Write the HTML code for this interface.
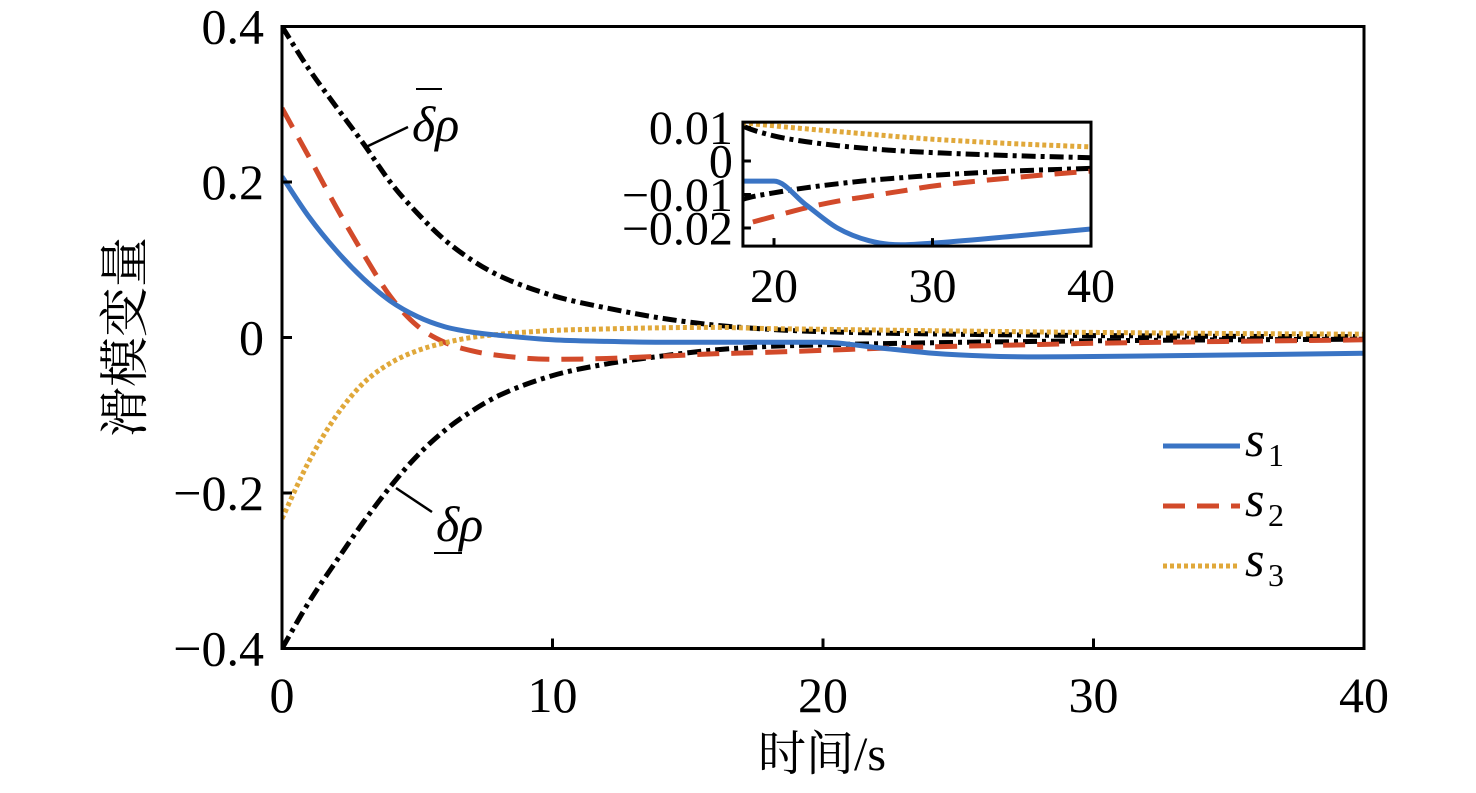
<!DOCTYPE html>
<html><head><meta charset="utf-8"><style>
html,body{margin:0;padding:0;background:#fff;overflow:hidden;width:1476px;height:793px;}
svg{display:block;position:absolute;left:0;top:0;font-family:"Liberation Serif","Noto Serif CJK SC",serif;}
</style></head><body>
<svg id="chart" width="1476" height="793" viewBox="0 0 1476 793" xmlns="http://www.w3.org/2000/svg">
<defs>
<clipPath id="mainClip"><rect x="282" y="26" width="1082" height="623"/></clipPath>
<clipPath id="insetClip"><rect x="743" y="122" width="348" height="124"/></clipPath>
</defs>
<g id="main"></g>
<g id="inset"></g>
<text transform="translate(142,337) rotate(-90)" text-anchor="middle" font-size="50" font-family="'Liberation Serif','Noto Serif CJK SC',serif">滑模变量</text>
<text x="822" y="770" text-anchor="middle" font-size="48" font-family="'Liberation Serif','Noto Serif CJK SC',serif">时间/s</text>
<g>
<line x1="366" y1="147" x2="408" y2="127" stroke="#000" stroke-width="2.5"/>
<text x="412" y="141" font-size="50" font-style="italic">δρ</text>
<line x1="416" y1="89" x2="442" y2="89" stroke="#000" stroke-width="2"/>
</g>
<g>
<line x1="396" y1="488" x2="432" y2="512" stroke="#000" stroke-width="2.5"/>
<text x="436" y="541" font-size="50" font-style="italic">δρ</text>
<line x1="434" y1="553" x2="462" y2="553" stroke="#000" stroke-width="2"/>
</g>
<g id="legend"></g>
</svg>
<script>
const tVals=[0,1,2,3,4,5,6,7,8,10,12,14,16,18,20,22,24,26,28,30,35,40];
const upperVals=[0.4,0.345,0.297,0.25,0.2,0.16,0.126,0.1,0.08,0.054,0.038,0.025,0.016,0.0105,0.0075,0.0058,0.0046,0.0037,0.003,0.0025,0.0016,0.001];
const lowerVals=[-0.4,-0.34,-0.288,-0.238,-0.192,-0.152,-0.12,-0.095,-0.075,-0.049,-0.034,-0.024,-0.016,-0.0115,-0.0095,-0.008,-0.0068,-0.0058,-0.005,-0.0043,-0.003,-0.0022];
const s1Vals=[0.207,0.155,0.112,0.076,0.047,0.027,0.014,0.007,0.003,-0.003,-0.005,-0.006,-0.006,-0.006,-0.006,-0.013,-0.02,-0.0238,-0.025,-0.0245,-0.0225,-0.0203];
const s2Vals=[0.295,0.232,0.168,0.108,0.053,0.015,-0.006,-0.017,-0.023,-0.028,-0.027,-0.024,-0.021,-0.019,-0.0165,-0.014,-0.012,-0.0105,-0.009,-0.0075,-0.005,-0.003];
const s3Vals=[-0.233,-0.159,-0.101,-0.059,-0.033,-0.017,-0.007,0.0,0.004,0.009,0.011,0.0125,0.013,0.0115,0.0105,0.0096,0.0088,0.008,0.0072,0.0065,0.0052,0.0042];
const xTicks=[0,10,20,30,40];
const yTicks=[-0.4,-0.2,0,0.2,0.4];
const yTickLabels=["\u22120.4","\u22120.2","0","0.2","0.4"];
const insetXTicks=[20,30,40];
const insetYTicks=[-0.02,-0.01,0,0.01];
const insetYTickLabels=["\u22120.02","\u22120.01","0","0.01"];
const legendLabels=["1","2","3"];

const NS="http://www.w3.org/2000/svg";
function mk(tag,attrs,parent){const e=document.createElementNS(NS,tag);for(const k in attrs)e.setAttribute(k,attrs[k]);parent.appendChild(e);return e;}
const styles=[
 {vals:upperVals,color:"#000",dash:"14 5 4 5",w:5,name:"upper-bound-line"},
 {vals:lowerVals,color:"#000",dash:"14 5 4 5",w:5,name:"lower-bound-line"},
 {vals:s2Vals,color:"#d24a2a",dash:"22 12",w:5,name:"s2-line"},
 {vals:s3Vals,color:"#e0a83a",dash:"4 3",w:5,name:"s3-line"},
 {vals:s1Vals,color:"#3a74c4",dash:"",w:5,name:"s1-line"}];

function monoPath(pts){
  const n=pts.length,dx=[],m=[],tg=[];
  for(let i=0;i<n-1;i++){dx[i]=pts[i+1][0]-pts[i][0];m[i]=(pts[i+1][1]-pts[i][1])/dx[i];}
  tg[0]=m[0];tg[n-1]=m[n-2];
  for(let i=1;i<n-1;i++){tg[i]=(m[i-1]*m[i]<=0)?0:(m[i-1]+m[i])/2;}
  for(let i=0;i<n-1;i++){
    if(m[i]===0){tg[i]=0;tg[i+1]=0;continue;}
    const a=tg[i]/m[i],b=tg[i+1]/m[i],s=a*a+b*b;
    if(s>9){const t=3/Math.sqrt(s);tg[i]=t*a*m[i];tg[i+1]=t*b*m[i];}
  }
  let d="M"+pts[0][0].toFixed(1)+","+pts[0][1].toFixed(1);
  for(let i=0;i<n-1;i++){
    const h=dx[i]/3;
    d+="C"+(pts[i][0]+h).toFixed(1)+","+(pts[i][1]+tg[i]*h).toFixed(1)+" "+(pts[i+1][0]-h).toFixed(1)+","+(pts[i+1][1]-tg[i+1]*h).toFixed(1)+" "+pts[i+1][0].toFixed(1)+","+pts[i+1][1].toFixed(1);
  }
  return d;
}

function drawPlot(g,x,y,clip,x0,x1,y0,y1,xt,xtl,yt,ytl,fs,tick,prefix,xlabY,ylabGap){
  const box=mk("rect",{x:x(x0),y:y(y1),width:x(x1)-x(x0),height:y(y0)-y(y1),fill:"#fff",stroke:"none"},g);
  
  
  const lg=mk("g",{"clip-path":"url(#"+clip+")"},g);
  styles.forEach(s=>{
    const pts=tVals.map((t,i)=>[x(t),y(s.vals[i])]);
    const p=mk("path",{d:monoPath(pts),fill:"none",stroke:s.color,"stroke-width":s.w,"stroke-dasharray":s.dash},lg);
    
    
  });
  const fr=mk("rect",{x:x(x0),y:y(y1),width:x(x1)-x(x0),height:y(y0)-y(y1),fill:"none",stroke:"#000","stroke-width":3},g);
  
  
  xt.forEach((v,i)=>{
    mk("line",{x1:x(v),x2:x(v),y1:y(y0),y2:y(y0)-tick,stroke:"#000","stroke-width":3},g);
    const t=mk("text",{x:x(v),y:xlabY,"text-anchor":"middle","font-size":fs},g);
    t.textContent=xtl[i];
    
    
  });
  yt.forEach((v,i)=>{
    mk("line",{x1:x(x0),x2:x(x0)+tick,y1:y(v),y2:y(v),stroke:"#000","stroke-width":3},g);
    const t=mk("text",{x:x(x0)-ylabGap,y:y(v)+fs*0.34,"text-anchor":"end","font-size":fs},g);
    t.textContent=ytl[i];
    
    
  });
}
const mx=v=>282+v*27.05, my=v=>337.5-v*777.5;
drawPlot(document.getElementById("main"),mx,my,"mainClip",0,40,-0.4,0.4,xTicks,xTicks.map(String),yTicks,yTickLabels,50,10,"main-",712,18);
const ix=v=>774+(v-20)*15.85, iy=v=>161-v*3350;
drawPlot(document.getElementById("inset"),ix,iy,"insetClip",18.04,40,-0.0254,0.0116,insetXTicks,insetXTicks.map(String),insetYTicks,insetYTickLabels,48,8,"inset-",302,10);

const lg=document.getElementById("legend");
const legStyles=[styles[4],styles[2],styles[3]];
legStyles.forEach((s,i)=>{
  const yy=446+i*60;
  const l=mk("line",{x1:1163,x2:1240,y1:yy,y2:yy,stroke:s.color,"stroke-width":5,"stroke-dasharray":s.dash},lg);
  
  
  const t=mk("text",{x:1245,y:yy+10,"font-size":50,"font-style":"italic"},lg);
  t.textContent="s";
  
  
  const sub=mk("text",{x:1268,y:yy+20,"font-size":32},lg);
  sub.textContent=legendLabels[i];
});
</script>
</body></html>
